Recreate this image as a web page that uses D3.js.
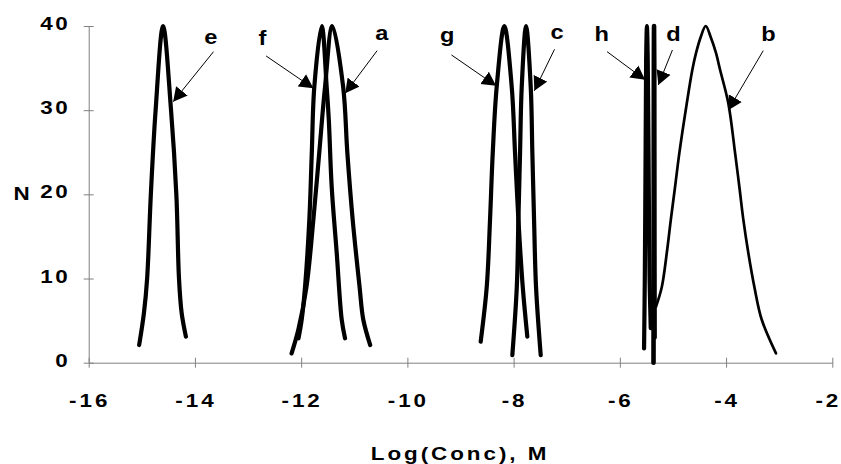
<!DOCTYPE html>
<html>
<head>
<meta charset="utf-8">
<script src="https://cdn.jsdelivr.net/npm/d3@7"></script>
<style>
  body { margin: 0; background: #fff; }
  text { font-family: "Liberation Sans", Arial, sans-serif; font-weight: bold; fill: #000; }
</style>
</head>
<body>
<div id="chart"></div>
<script>
// axis ticks
const xTicks = [-16, -14, -12, -10, -8, -6, -4, -2];
const yTicks = [0, 10, 20, 30, 40];

// curves: [log(conc), N]
const curveE = [[-15.05, 2.1], [-14.96, 5.9], [-14.90, 10], [-14.83, 20], [-14.74, 30], [-14.60, 40], [-14.45, 30], [-14.35, 20], [-14.30, 10], [-14.25, 5.9], [-14.17, 3.1]];
const curveF = [[-12.05, 2.9], [-11.99, 5.1], [-11.927, 9], [-11.846, 17], [-11.80, 24.9], [-11.752, 32.8], [-11.613, 40], [-11.52, 32.8], [-11.48, 28.9], [-11.425, 20.9], [-11.33, 13], [-11.236, 5.1], [-11.174, 2.9]];
const curveA = [[-12.18, 1.1], [-12.05, 4], [-11.90, 9], [-11.77, 17], [-11.66, 24.9], [-11.55, 32.8], [-11.413, 40], [-11.21, 32.8], [-11.13, 24.9], [-11.03, 17], [-10.90, 9], [-10.83, 5.1], [-10.70, 2.1]];
const curveG = [[-8.62, 2.5], [-8.506, 9], [-8.444, 17], [-8.393, 24.9], [-8.318, 32.8], [-8.175, 40], [-8.036, 32.8], [-7.973, 24.9], [-7.91, 17], [-7.828, 9], [-7.742, 3.1]];
const curveC = [[-8.024, 0.9], [-7.94, 9], [-7.91, 17], [-7.879, 24.9], [-7.847, 32.8], [-7.766, 40], [-7.678, 32.8], [-7.647, 24.9], [-7.615, 17], [-7.578, 9], [-7.49, 0.9]];
const curveH = [[-5.544, 1.7], [-5.53, 10], [-5.515, 25], [-5.505, 36], [-5.49, 40], [-5.475, 36], [-5.46, 25], [-5.44, 10], [-5.418, 4.1]];
const curveD = [[-5.366, 0], [-5.363, 15], [-5.36, 35], [-5.356, 40], [-5.352, 35], [-5.349, 15], [-5.346, 3]];
const curveB = [[-5.32, 6.65], [-5.21, 9.0], [-5.117, 13.0], [-5.04, 17.0], [-4.96, 20.9], [-4.88, 24.9], [-4.74, 30.8], [-4.635, 34.8], [-4.565, 36.8], [-4.477, 38.7], [-4.383, 40], [-4.29, 38.7], [-4.19, 36.8], [-4.113, 34.8], [-3.957, 30.8], [-3.83, 24.9], [-3.75, 20.9], [-3.675, 17.0], [-3.58, 13.0], [-3.467, 9.0], [-3.328, 5.1], [-3.06, 1.1]];

// annotations, in data units
const noteNames = ["e", "f", "a", "g", "c", "h", "d", "b"];
const noteText = [[-13.70, 38.7], [-12.73, 38.6], [-10.48, 39.2], [-9.25, 38.9], [-7.18, 39.3], [-6.34, 39.1], [-4.99, 39.0], [-3.20, 39.0]];
const noteFrom = [[-13.65, 36.95], [-12.66, 36.44], [-10.57, 37.07], [-9.17, 36.56], [-7.23, 37.23], [-6.24, 36.95], [-5.01, 37.15], [-3.30, 37.07]];
const noteTip = [[-14.41, 31.0], [-11.77, 32.6], [-11.17, 32.0], [-8.33, 32.9], [-7.61, 32.3], [-5.525, 33.6], [-5.275, 33.0], [-3.96, 30.0]];

const width = 841, height = 464;

const svg = d3.select("#chart")
    .append("svg")
    .attr("width", width)
    .attr("height", height);

const x = d3.scaleLinear().domain([-16, -2]).range([88.7, 832.3]);
const y = d3.scaleLinear().domain([0, 40]).range([362.7, 26]);

// stretched bold text like the original
function addText(txt, px, py, anchor, size, spacing) {
    return svg.append("text")
        .attr("transform", `translate(${px},${py}) scale(1.18,1)`)
        .attr("text-anchor", anchor)
        .style("font-size", size + "px")
        .style("letter-spacing", spacing + "px")
        .text(txt);
}

// x axis
const xAxis = svg.append("g")
    .attr("transform", `translate(0,${y(0)})`)
    .call(d3.axisBottom(x).tickValues(xTicks).tickSizeOuter(0).tickFormat(""));
xAxis.select(".domain").attr("stroke", "#808080");
xAxis.selectAll(".tick line").attr("y1", -5).attr("y2", 5).attr("stroke", "#808080");

// y axis
const yAxis = svg.append("g")
    .attr("transform", `translate(${x(-16)},0)`)
    .call(d3.axisLeft(y).tickValues(yTicks).tickSizeOuter(0).tickFormat(""));
yAxis.select(".domain").attr("stroke", "#808080");
yAxis.selectAll(".tick line").attr("x1", -5).attr("x2", 5).attr("stroke", "#808080");

// tick labels (last one pulled in so it stays inside the frame)
xTicks.forEach((t, i) => {
    const shift = i === xTicks.length - 1 ? -4 : 1;
    addText(t, x(t) + shift, 406.5, "middle", 19, 2.5);
});
yTicks.forEach(t => addText(t, 70, y(t) + 4, "end", 19, 2));

// axis titles
addText("N", 21.5, 200, "middle", 19, 0);
addText("Log(Conc), M", 460, 460, "middle", 19, 2.5);

// curves
const line = d3.line()
    .x(d => x(d[0]))
    .y(d => y(d[1]))
    .curve(d3.curveCatmullRom.alpha(0.5));

const curves = [
    { pts: curveE, w: 4.2 },
    { pts: curveF, w: 4.2 },
    { pts: curveA, w: 4.2 },
    { pts: curveG, w: 4.2 },
    { pts: curveC, w: 4.2 },
    { pts: curveH, w: 4.2 },
    { pts: curveD, w: 4.6 },
    { pts: curveB, w: 2.7 }
];

svg.append("g").selectAll("path")
    .data(curves)
    .enter()
    .append("path")
    .attr("d", d => line(d.pts))
    .attr("fill", "none")
    .attr("stroke", "#000")
    .attr("stroke-width", d => d.w)
    .attr("stroke-linecap", "round")
    .attr("stroke-linejoin", "round");

// arrow head
svg.append("defs").append("marker")
    .attr("id", "head")
    .attr("markerUnits", "userSpaceOnUse")
    .attr("viewBox", "-14 -8 14 16")
    .attr("refX", 0)
    .attr("refY", 0)
    .attr("markerWidth", 14)
    .attr("markerHeight", 16)
    .attr("orient", "auto")
    .append("path")
    .attr("d", "M0,0L-14,-7.5L-14,7.5Z")
    .attr("fill", "#000");

const notes = svg.append("g");
noteNames.forEach((n, i) => {
    notes.append("line")
        .attr("x1", x(noteFrom[i][0]))
        .attr("y1", y(noteFrom[i][1]))
        .attr("x2", x(noteTip[i][0]))
        .attr("y2", y(noteTip[i][1]))
        .attr("stroke", "#000")
        .attr("stroke-width", 1)
        .attr("marker-end", "url(#head)");
    addText(n, x(noteText[i][0]), y(noteText[i][1]) + 7, "middle", 20, 0);
});
</script>
</body>
</html>
